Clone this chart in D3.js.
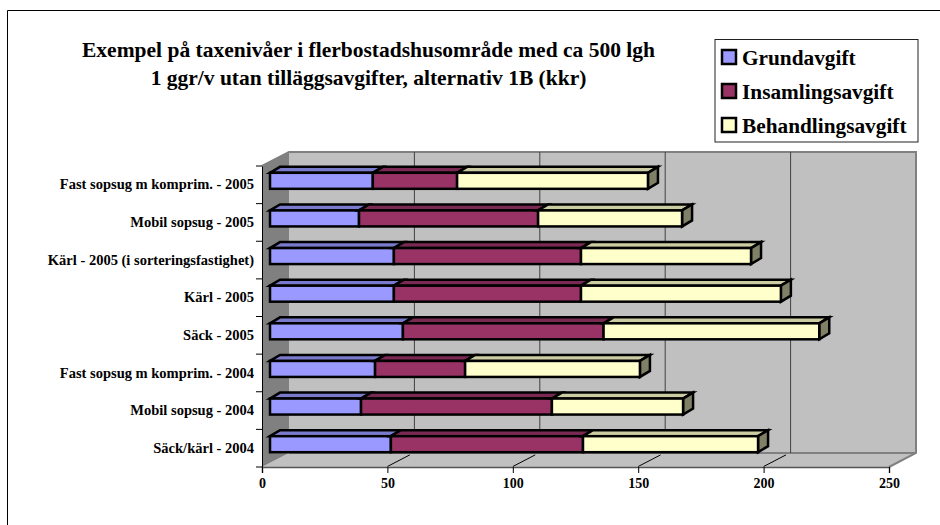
<!DOCTYPE html>
<html>
<head>
<meta charset="utf-8">
<script src="https://cdn.jsdelivr.net/npm/d3@7"></script>
<style>
  html, body { margin: 0; padding: 0; background: #fff; }
  svg { display: block; }
  text { font-family: "Liberation Serif", serif; font-weight: bold; fill: #000; }
</style>
</head>
<body>
<svg id="chart" width="940" height="525"></svg>
<script>
// bottom row first, same order as the value axis grows upwards
const categories = [
  'Säck/kärl - 2004',
  'Mobil sopsug - 2004',
  'Fast sopsug m komprim. - 2004',
  'Säck - 2005',
  'Kärl - 2005',
  'Kärl - 2005 (i sorteringsfastighet)',
  'Mobil sopsug - 2005',
  'Fast sopsug m komprim. - 2005'
]
const grundavgift = [48.2, 36.3, 41.9, 53, 49.4, 49.4, 35.5, 41]
const insamlingsavgift = [76.6, 76.1, 35.9, 80, 74.6, 74.6, 71.4, 33.6]
const behandlingsavgift = [69.8, 52.3, 69.7, 86, 79.7, 67.8, 57.4, 76.1]
const seriesNames = ['Grundavgift', 'Insamlingsavgift', 'Behandlingsavgift']
const seriesColors = ['#9999ff', '#993366', '#ffffcc']
const xTicks = [0, 50, 100, 150, 200, 250]
const titleLines = [
  'Exempel på taxenivåer i flerbostadshusområde med ca 500 lgh',
  '1 ggr/v utan tilläggsavgifter, alternativ 1B (kkr)'
]

const svg = d3.select('#chart')

// frame only shows on top and left
svg.append('path')
  .attr('d', 'M7.5,525V10.5H940')
  .attr('fill', 'none')
  .attr('stroke', '#000')

let x = d3.scaleLinear().domain([0, 250]).range([262, 889])
let y = d3.scaleBand().domain(categories).range([467, 166])

// 3d offsets
let depthX = 27, depthY = -14
let barX = 8, barY = -4, barTopX = 10, barTopY = -6
let barH = 16

let walls = svg.append('g')
let floorTop = 467 + depthY
let wallTop = 166 + depthY
let pts = arr => arr.map(p => p.join(',')).join(' ')

walls.append('polygon')
  .attr('points', pts([[x(0), 467], [x(250), 467], [x(250) + depthX, floorTop], [x(0) + depthX, floorTop]]))
  .attr('fill', '#c0c0c0')
walls.append('polygon')
  .attr('points', pts([[x(0), 166], [x(0) + depthX, wallTop], [x(0) + depthX, floorTop], [x(0), 467]]))
  .attr('fill', '#808080')
walls.append('rect')
  .attr('x', x(0) + depthX)
  .attr('y', wallTop)
  .attr('width', x(250) - x(0))
  .attr('height', floorTop - wallTop)
  .attr('fill', '#c0c0c0')
walls.append('path')
  .attr('d', `M${x(0)},166L${x(0) + depthX},${wallTop}H${x(250) + depthX}V${floorTop}L${x(250)},467M${x(0) + depthX},${floorTop}H${x(250) + depthX}`)
  .attr('fill', 'none')
  .attr('stroke', '#808080')
  .attr('stroke-width', 2)

// grid lines on back wall and floor
let gridTicks = xTicks.slice(1, -1)
walls.selectAll('line.grid')
  .data(gridTicks)
  .join('line')
  .attr('class', 'grid')
  .attr('x1', d => x(d) + depthX)
  .attr('x2', d => x(d) + depthX)
  .attr('y1', wallTop)
  .attr('y2', floorTop)
  .attr('stroke', '#404040')
walls.selectAll('line.floor')
  .data(gridTicks)
  .join('line')
  .attr('class', 'floor')
  .attr('x1', d => x(d))
  .attr('x2', d => x(d) + depthX * 0.83)
  .attr('y1', 466.5)
  .attr('y2', 466.5 + depthY * 0.83)
  .attr('stroke', '#000')

// axes
let bottomAxis = svg.append('g')
  .attr('transform', 'translate(0,467)')
  .call(d3.axisBottom(x).tickValues(xTicks).tickSize(6).tickPadding(5).tickFormat(d3.format('d')))
bottomAxis.select('.domain').attr('stroke', '#555').attr('stroke-width', 1.5)
bottomAxis.selectAll('text').attr('font-size', 14).attr('font-family', null)

let leftAxis = svg.append('g')
  .attr('transform', `translate(${x(0)},0)`)
  .call(d3.axisLeft(y).tickSize(0).tickPadding(8))
leftAxis.select('.domain').attr('stroke', '#000')
leftAxis.selectAll('text').attr('font-size', 14.5).attr('font-family', null)
leftAxis.selectAll('line.edge')
  .data(d3.range(categories.length + 1))
  .join('line')
  .attr('class', 'edge')
  .attr('x1', -6)
  .attr('x2', 0)
  .attr('y1', i => i === categories.length ? y.range()[1] : y(categories[i]) + y.bandwidth())
  .attr('y2', i => i === categories.length ? y.range()[1] : y(categories[i]) + y.bandwidth())
  .attr('stroke', '#000')

// stacked bars
let rows = categories.map((c, i) => ({
  category: c,
  [seriesNames[0]]: grundavgift[i],
  [seriesNames[1]]: insamlingsavgift[i],
  [seriesNames[2]]: behandlingsavgift[i]
}))
let stacked = d3.stack().keys(seriesNames)(rows)
let barStroke = { stroke: '#000', 'stroke-width': 2.5, 'stroke-linejoin': 'miter' }

function shade(color, k) {
  let c = d3.rgb(color)
  return d3.rgb(c.r * k, c.g * k, c.b * k).formatHex()
}
function styled(sel) {
  Object.keys(barStroke).forEach(k => sel.attr(k, barStroke[k]))
  return sel
}

let bars = svg.append('g')
stacked.forEach((layer, li) => {
  let color = seriesColors[li]
  let g = bars.append('g').attr('class', 'series')
  layer.forEach(d => {
    let faceY = y(d.data.category) + y.bandwidth() / 2 + barY - barH / 2
    let x0 = x(d[0]) + barX
    let x1 = x(d[1]) + barX
    styled(g.append('polygon'))
      .attr('points', pts([[x0, faceY], [x0 + barTopX, faceY + barTopY], [x1 + barTopX, faceY + barTopY], [x1, faceY]]))
      .attr('fill', shade(color, 0.8))
    if (li === stacked.length - 1) {
      styled(g.append('polygon'))
        .attr('points', pts([[x1, faceY], [x1 + barTopX, faceY + barTopY], [x1 + barTopX, faceY + barTopY + barH], [x1, faceY + barH]]))
        .attr('fill', shade(color, 0.5))
    }
    styled(g.append('rect'))
      .attr('x', x0)
      .attr('y', faceY)
      .attr('width', x1 - x0)
      .attr('height', barH)
      .attr('fill', color)
  })
})

// title
svg.selectAll('text.title')
  .data(titleLines)
  .join('text')
  .attr('class', 'title')
  .attr('x', 368.5)
  .attr('y', (d, i) => 57 + i * 28)
  .attr('text-anchor', 'middle')
  .attr('font-size', 21.5)
  .text(d => d)

// legend
let legend = svg.append('g')
legend.append('rect')
  .attr('x', 715)
  .attr('y', 39.5)
  .attr('width', 203)
  .attr('height', 102.5)
  .attr('fill', '#fff')
  .attr('stroke', '#222')
let legendItem = legend.selectAll('g.item')
  .data(seriesNames)
  .join('g')
  .attr('class', 'item')
  .attr('transform', (d, i) => `translate(0,${i * 34})`)
styled(legendItem.append('rect'))
  .attr('x', 722)
  .attr('y', 50)
  .attr('width', 14)
  .attr('height', 14)
  .attr('fill', (d, i) => seriesColors[i])
legendItem.append('text')
  .attr('x', 742)
  .attr('y', 65)
  .attr('font-size', 21.3)
  .text(d => d)
</script>
</body>
</html>
